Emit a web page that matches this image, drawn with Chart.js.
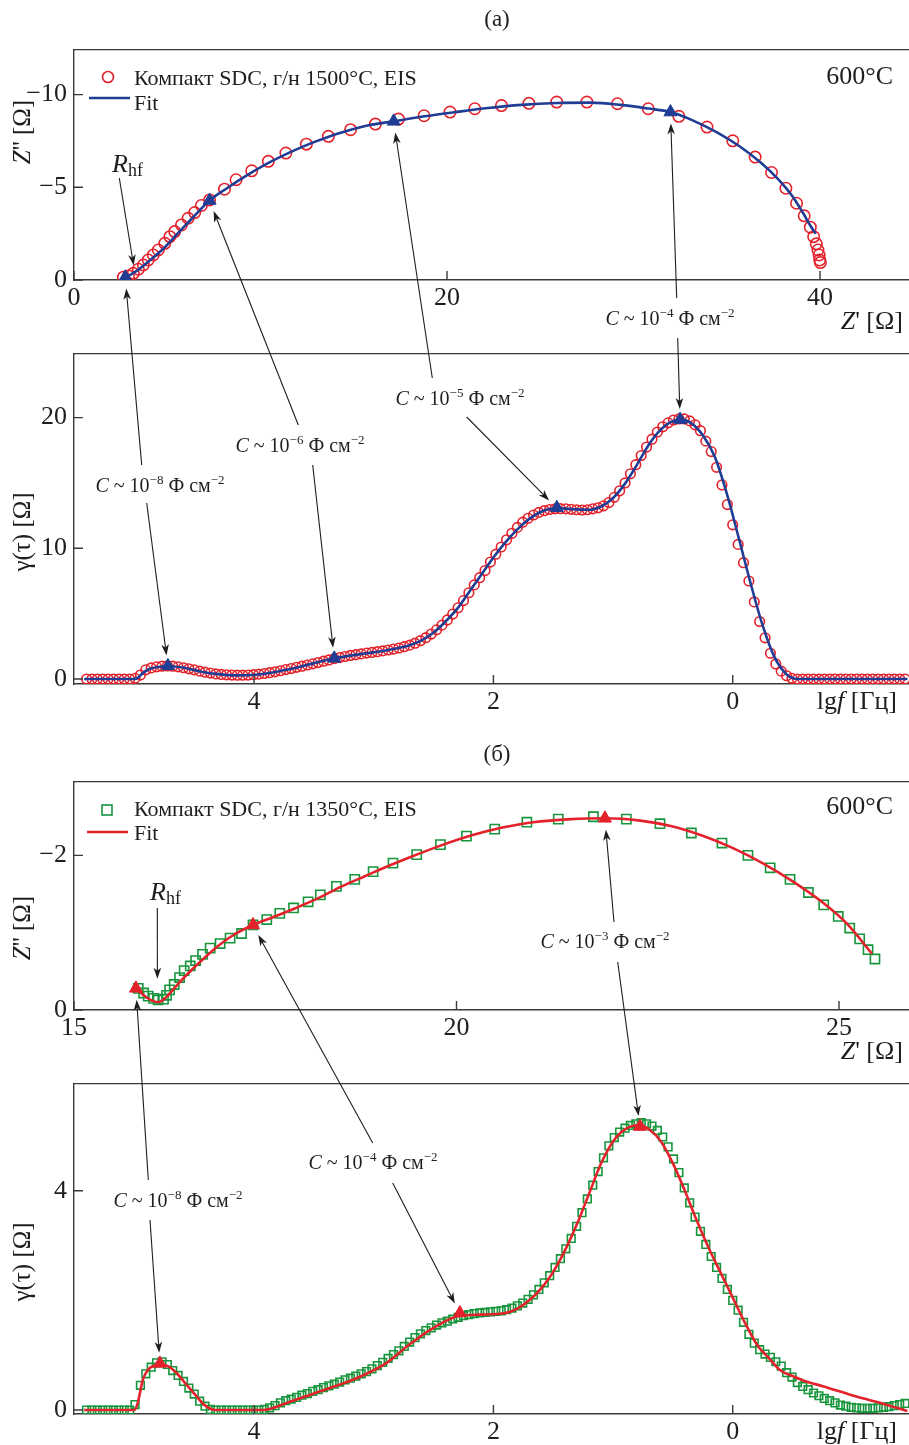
<!DOCTYPE html>
<html><head><meta charset="utf-8">
<script src="https://cdn.jsdelivr.net/npm/chart.js@4.4.1/dist/chart.umd.min.js"></script>
<style>
html,body{margin:0;padding:0;background:#fff;}
#root{position:relative;width:909px;height:1445px;overflow:hidden;background:#fff;}
#root canvas{position:absolute;left:0;top:0;}
</style></head><body><div id="root"></div>
<script>
// ---------------- DATA ----------------
// Panel (а) – Nyquist, data (Z', Z'')
const nyqA_zr = [2.65,2.92,3.18,3.45,3.72,3.98,4.25,4.52,4.87,5.14,5.40,5.76,6.12,6.47,6.83,7.27,8.07,8.69,9.53,10.42,11.36,12.46,13.64,14.83,16.16,17.40,18.77,20.16,21.49,22.92,24.39,25.88,27.50,29.14,30.79,32.43,33.94,35.32,36.52,37.40,38.17,38.74,39.15,39.48,39.66,39.80,39.89,39.95,39.98,40.02];
const nyqA_zi = [-0.15,-0.22,-0.36,-0.58,-0.81,-1.08,-1.35,-1.62,-1.98,-2.34,-2.61,-2.97,-3.33,-3.64,-4.02,-4.32,-4.90,-5.41,-5.89,-6.40,-6.85,-7.33,-7.75,-8.11,-8.41,-8.68,-8.86,-9.06,-9.24,-9.41,-9.53,-9.60,-9.60,-9.51,-9.24,-8.83,-8.25,-7.51,-6.63,-5.80,-4.95,-4.14,-3.46,-2.85,-2.34,-1.95,-1.62,-1.35,-1.08,-0.94];
// Panel (а) – Nyquist, fit
const fitA_zr = [2.75,3.3,4.0,4.8,5.6,6.4,7.27,8.2,9.2,10.4,11.6,12.9,14.3,15.8,17.14,18.8,20.4,22.2,24.0,25.9,27.7,29.3,30.8,31.98,33.2,34.5,35.7,36.8,37.7,38.5,39.1,39.5,39.77];
const fitA_zi = [-0.12,-0.45,-1.0,-1.7,-2.55,-3.4,-4.29,-4.95,-5.6,-6.3,-6.9,-7.45,-7.95,-8.35,-8.56,-8.83,-9.05,-9.28,-9.45,-9.55,-9.57,-9.45,-9.25,-9.06,-8.6,-7.95,-7.2,-6.35,-5.5,-4.55,-3.6,-2.9,-2.5];
// Panel (а) – Nyquist, marked points
const triA_zr = [2.75,7.27,17.14,31.98];
const triA_zi = [-0.15,-4.29,-8.56,-9.06];

// DRT grid (lg f) shared by both DRT panels
const drtLg = [5.400,5.355,5.310,5.265,5.220,5.175,5.130,5.085,5.040,4.995,
4.950,4.905,4.860,4.815,4.770,4.725,4.680,4.635,4.590,4.545,
4.500,4.455,4.410,4.365,4.320,4.275,4.230,4.185,4.140,4.095,
4.050,4.005,3.960,3.915,3.870,3.825,3.780,3.735,3.690,3.645,
3.600,3.555,3.510,3.465,3.420,3.375,3.330,3.285,3.240,3.195,
3.150,3.105,3.060,3.015,2.970,2.925,2.880,2.835,2.790,2.745,
2.700,2.655,2.610,2.565,2.520,2.475,2.430,2.385,2.340,2.295,
2.250,2.205,2.160,2.115,2.070,2.025,1.980,1.935,1.890,1.845,
1.800,1.755,1.710,1.665,1.620,1.575,1.530,1.485,1.440,1.395,
1.350,1.305,1.260,1.215,1.170,1.125,1.080,1.035,0.990,0.945,
0.900,0.855,0.810,0.765,0.720,0.675,0.630,0.585,0.540,0.495,
0.450,0.405,0.360,0.315,0.270,0.225,0.180,0.135,0.090,0.045,
0.000,-0.045,-0.090,-0.135,-0.180,-0.225,-0.270,-0.315,-0.360,-0.405,
-0.450,-0.495,-0.540,-0.585,-0.630,-0.675,-0.720,-0.765,-0.810,-0.855,
-0.900,-0.945,-0.990,-1.035,-1.080,-1.125,-1.170,-1.215,-1.260,-1.305,
-1.350,-1.395,-1.440];
// Panel (а) – DRT data γ(τ)
const drtA_gamma = [0,0,0,0,0,0,0,0,0,0.05,
0.3,0.7,0.85,0.93,0.98,1.0,0.98,0.93,0.86,0.78,
0.7,0.6,0.52,0.45,0.39,0.35,0.32,0.3,0.29,0.29,
0.3,0.33,0.37,0.42,0.48,0.55,0.63,0.72,0.8,0.89,
0.98,1.07,1.16,1.26,1.36,1.46,1.56,1.64,1.72,1.8,
1.86,1.92,1.98,2.03,2.09,2.15,2.22,2.29,2.37,2.47,
2.59,2.74,2.93,3.16,3.44,3.76,4.12,4.52,4.97,5.45,
6.0,6.6,7.2,7.75,8.3,8.95,9.55,10.1,10.65,11.15,
11.6,12.0,12.3,12.55,12.75,12.88,12.97,13.02,13.03,13.02,
12.98,12.95,12.93,12.95,13.02,13.1,13.25,13.5,13.9,14.4,
15.0,15.7,16.4,17.1,17.75,18.35,18.9,19.3,19.6,19.82,
19.9,19.9,19.75,19.45,19.0,18.2,17.4,16.2,14.85,13.35,
11.8,10.3,8.9,7.5,5.9,4.4,3.15,1.97,1.15,0.6,
0.25,0.05,0,0,0,0,0,0,0,0,
0,0,0,0,0,0,0,0,0,0,
0,0,0];
// Panel (а) – DRT fit
const drtFitA_lg = [5.42,5.0,4.97,4.93,4.88,4.8,4.72,4.6,4.45,4.3,4.15,4.0,3.8,3.6,3.33,3.1,2.9,2.7,2.6,2.5,2.4,2.3,2.2,2.1,2.0,1.9,1.8,1.7,1.6,1.47,1.35,1.2,1.1,1.0,0.9,0.8,0.7,0.6,0.52,0.44,0.35,0.25,0.15,0.05,-0.05,-0.15,-0.25,-0.35,-0.45,-0.52,-0.6,-1.46];
const drtFitA_gamma = [0,0,0.1,0.45,0.75,0.92,1.0,0.88,0.58,0.37,0.28,0.32,0.58,0.97,1.58,1.92,2.18,2.58,2.95,3.55,4.4,5.4,6.7,8.0,9.3,10.45,11.45,12.25,12.8,13.08,13.0,12.95,13.2,13.85,14.95,16.4,17.95,19.1,19.65,19.85,19.6,18.65,17.0,14.2,10.8,7.3,4.1,1.65,0.35,0.02,0,0];
const drtTriA_lg = [4.72,3.33,1.47,0.44];
const drtTriA_gamma = [1.0,1.58,13.1,19.85];

// Panel (б) – Nyquist, data
const nyqB_zr = [15.84,15.91,15.97,16.04,16.10,16.17,16.21,16.25,16.31,16.38,16.44,16.52,16.59,16.68,16.78,16.91,17.04,17.19,17.34,17.52,17.69,17.87,18.06,18.22,18.43,18.67,18.91,19.17,19.48,19.79,20.13,20.50,20.92,21.33,21.79,22.22,22.66,23.07,23.47,23.81,24.10,24.36,24.60,24.80,24.99,25.14,25.27,25.38,25.47];
const nyqB_zi = [-0.28,-0.22,-0.18,-0.15,-0.13,-0.14,-0.19,-0.26,-0.33,-0.42,-0.51,-0.57,-0.64,-0.72,-0.80,-0.86,-0.93,-0.99,-1.10,-1.17,-1.25,-1.32,-1.40,-1.49,-1.60,-1.69,-1.79,-1.90,-2.01,-2.14,-2.25,-2.34,-2.43,-2.47,-2.50,-2.47,-2.41,-2.29,-2.16,-2.00,-1.84,-1.69,-1.52,-1.36,-1.21,-1.06,-0.92,-0.78,-0.66];
const fitB_zr = [15.81,15.9,16.0,16.1,16.2,16.3,16.4,16.55,16.7,16.9,17.1,17.34,17.6,17.9,18.2,18.5,18.8,19.1,19.4,19.8,20.2,20.6,21.0,21.5,21.94,22.4,22.8,23.2,23.6,24.0,24.4,24.8,25.1,25.43];
const fitB_zi = [-0.28,-0.2,-0.13,-0.1,-0.16,-0.27,-0.38,-0.53,-0.67,-0.84,-0.98,-1.10,-1.2,-1.32,-1.45,-1.6,-1.73,-1.86,-1.98,-2.13,-2.26,-2.36,-2.43,-2.47,-2.48,-2.45,-2.38,-2.26,-2.1,-1.9,-1.66,-1.38,-1.12,-0.73];
const triB_zr = [15.81,17.34,21.94];
const triB_zi = [-0.28,-1.10,-2.48];

// Panel (б) – DRT data
const drtB_gamma = [0,0,0,0,0,0,0,0,0,0.1,
0.45,0.66,0.78,0.86,0.88,0.83,0.72,0.63,0.52,0.4,
0.29,0.16,0.07,0.01,0,0,0,0,0,0,
0,0,0,0.01,0.04,0.08,0.13,0.17,0.2,0.23,
0.27,0.3,0.34,0.37,0.41,0.44,0.47,0.51,0.55,0.58,
0.62,0.66,0.7,0.75,0.81,0.87,0.94,1.01,1.08,1.16,
1.24,1.32,1.39,1.45,1.5,1.55,1.59,1.62,1.66,1.69,
1.72,1.74,1.76,1.77,1.78,1.79,1.8,1.81,1.83,1.86,
1.9,1.95,2.02,2.1,2.2,2.32,2.45,2.6,2.76,2.94,
3.13,3.35,3.6,3.85,4.1,4.35,4.6,4.82,4.97,5.07,
5.14,5.19,5.22,5.24,5.22,5.18,5.1,4.98,4.8,4.58,
4.33,4.05,3.78,3.52,3.26,3.02,2.8,2.6,2.4,2.2,
2.0,1.82,1.6,1.38,1.22,1.1,1.02,0.96,0.88,0.8,
0.68,0.6,0.5,0.43,0.37,0.31,0.26,0.21,0.17,0.13,
0.09,0.07,0.05,0.04,0.03,0.03,0.03,0.04,0.05,0.06,
0.08,0.1,0.12];
const drtFitB_lg = [5.42,5.0,4.97,4.93,4.88,4.82,4.78,4.72,4.65,4.58,4.5,4.42,4.35,4.3,3.92,3.85,3.7,3.5,3.3,3.1,2.9,2.7,2.5,2.28,2.1,1.9,1.8,1.7,1.6,1.5,1.4,1.3,1.2,1.1,1.0,0.9,0.78,0.7,0.6,0.5,0.4,0.3,0.2,0.1,0.0,-0.1,-0.2,-0.3,-0.4,-0.5,-0.6,-0.76,-1.04,-1.25,-1.46];
const drtFitB_gamma = [0,0,0.15,0.55,0.75,0.82,0.83,0.8,0.68,0.5,0.3,0.1,0.01,0,0,0.03,0.15,0.3,0.45,0.62,0.85,1.2,1.5,1.72,1.74,1.77,1.85,2.0,2.22,2.52,2.92,3.4,3.95,4.5,4.9,5.12,5.2,5.12,4.9,4.5,4.0,3.45,2.95,2.5,2.05,1.6,1.2,0.95,0.72,0.62,0.53,0.43,0.24,0.12,-0.02];
const drtTriB_lg = [4.787,2.28,0.775];
const drtTriB_gamma = [0.85,1.77,5.17];

// Tick steps
const ticksNyqA = {x:20, y:5};
const ticksDrtA = {x:2, y:10};
const ticksNyqB = {x:5, y:2};
const ticksDrtB = {x:2, y:4};

// ---------------- STYLE ----------------
const FF = '"Liberation Serif", "Times New Roman", serif';
const AX = '#3a3a3a', TXT = '#1e1e1e';
const RED = '#e4222b', BLUE = '#1f3d94', GREEN = '#16953c';
const NONE = 'rgba(0,0,0,0)';
Chart.defaults.font.family = FF;

const fmt = v => String(v).replace('-', '\u2212');
function pts(xs, ys){ return xs.map((x,i)=>({x:x, y:ys[i]})); }

const framePlugin = {
  id:'frame',
  afterDraw(chart){
    const ctx = chart.ctx, a = chart.chartArea, x = chart.scales.x, y = chart.scales.y;
    ctx.save();
    ctx.strokeStyle = AX; ctx.lineWidth = 1.4;
    ctx.beginPath();
    ctx.moveTo(a.left, a.top); ctx.lineTo(a.right, a.top);
    x.ticks.forEach(t => { const p = x.getPixelForValue(t.value); ctx.moveTo(p, a.bottom); ctx.lineTo(p, a.bottom - 9); });
    y.ticks.forEach(t => { const p = y.getPixelForValue(t.value); ctx.moveTo(a.left, p); ctx.lineTo(a.left + 9, p); });
    ctx.stroke();
    ctx.restore();
  }
};

function axisOpt(s, ax){
  return {
    type:'linear', position: ax==='x' ? 'bottom' : 'left',
    min:s.min, max:s.max, reverse:!!s.reverse,
    grid:{display:false, drawTicks:false, drawOnChartArea:false},
    border:{display:true, color:AX, width:1.4},
    ticks:{stepSize:s.step, includeBounds:false, autoSkip:false, maxRotation:0, minRotation:0,
           padding: ax==='x' ? 3 : 7, color:TXT, font:{family:FF, size:26}, callback: fmt},
    afterFit: sc => { if (ax==='x') sc.height = 50; else sc.width = 74; }
  };
}
function makeCfg(sx, sy, dsFn){
  return () => ({
    type:'scatter',
    data:{datasets: dsFn()},
    options:{
      responsive:false, maintainAspectRatio:false, animation:false, devicePixelRatio:1, events:[],
      layout:{padding:0, autoPadding:false},
      plugins:{legend:{display:false}, tooltip:{enabled:false}},
      scales:{ x: axisOpt(sx,'x'), y: axisOpt(sy,'y') }
    },
    plugins:[framePlugin]
  });
}
const root = document.getElementById('root');
function newCanvas(w,h){
  const c = document.createElement('canvas');
  c.width = w; c.height = h; c.style.width = w+'px'; c.style.height = h+'px';
  root.appendChild(c); return c;
}
function place(target, mk){
  let w = 1000, h = (target.bottom - target.top) + 120;
  let cv = newCanvas(w,h), ch = new Chart(cv, mk());
  let a = ch.chartArea;
  const nw = Math.round(w + (target.right - target.left) - (a.right - a.left));
  const nh = Math.round(h + (target.bottom - target.top) - (a.bottom - a.top));
  ch.destroy(); cv.remove();
  cv = newCanvas(nw, nh); ch = new Chart(cv, mk());
  a = ch.chartArea;
  const ox = target.left - a.left, oy = target.top - a.top;
  cv.style.left = ox + 'px'; cv.style.top = oy + 'px';
  return {chart:ch, ox:ox, oy:oy};
}

function scatterDs(data, style, color, r, order, fill){
  return {data:data, showLine:false, pointStyle:style, pointRadius:r, pointHoverRadius:r,
          pointBorderColor:color, borderColor:color, pointBackgroundColor: fill ? color : NONE,
          backgroundColor: fill ? color : NONE, pointBorderWidth: fill ? 1 : 1.6, borderWidth: fill ? 1 : 1.6, order:order};
}
function lineDs(data, color){
  return {data:data, showLine:true, borderColor:color, backgroundColor:color, borderWidth:2.6,
          pointRadius:0, pointHoverRadius:0, cubicInterpolationMode:'monotone', order:2};
}

const A1 = place({left:74, top:50, right:909, bottom:280},
  makeCfg({min:0, max:44.77, step:ticksNyqA.x}, {min:-12.43, max:0, step:ticksNyqA.y, reverse:true}, () => [
    scatterDs(pts(nyqA_zr, nyqA_zi), 'circle', RED, 5.7, 3, false),
    lineDs(pts(fitA_zr, fitA_zi), BLUE),
    scatterDs(pts(triA_zr, triA_zi), 'triangle', BLUE, 7.5, 1, true)
  ]));
const A2 = place({left:74, top:354, right:909, bottom:684},
  makeCfg({min:-1.473, max:5.505, step:ticksDrtA.x, reverse:true}, {min:-0.383, max:24.9, step:ticksDrtA.y}, () => [
    scatterDs(pts(drtLg, drtA_gamma), 'circle', RED, 4.8, 3, false),
    lineDs(pts(drtFitA_lg, drtFitA_gamma), BLUE),
    scatterDs(pts(drtTriA_lg, drtTriA_gamma), 'triangle', BLUE, 7.5, 1, true)
  ]));
const B1 = place({left:74, top:782, right:909, bottom:1010},
  makeCfg({min:15, max:25.915, step:ticksNyqB.x}, {min:-2.955, max:0, step:ticksNyqB.y, reverse:true}, () => [
    scatterDs(pts(nyqB_zr, nyqB_zi), 'rect', GREEN, 6.5, 3, false),
    lineDs(pts(fitB_zr, fitB_zi), RED),
    scatterDs(pts(triB_zr, triB_zi), 'triangle', RED, 7.5, 1, true)
  ]));
const B2 = place({left:74, top:1084, right:909, bottom:1414},
  makeCfg({min:-1.473, max:5.505, step:ticksDrtB.x, reverse:true}, {min:-0.073, max:5.954, step:ticksDrtB.y}, () => [
    scatterDs(pts(drtLg, drtB_gamma), 'rect', GREEN, 5.4, 3, false),
    lineDs(pts(drtFitB_lg, drtFitB_gamma), RED),
    scatterDs(pts(drtTriB_lg, drtTriB_gamma), 'triangle', RED, 7.5, 1, true)
  ]));

// ---------------- OVERLAY (texts, legends, arrows) ----------------
const ov = newCanvas(909, 1445); ov.style.zIndex = 10;
const ctx = ov.getContext('2d');
ctx.fillStyle = TXT; ctx.strokeStyle = TXT;

function P(C, x, y){ return [C.ox + C.chart.scales.x.getPixelForValue(x), C.oy + C.chart.scales.y.getPixelForValue(y)]; }
function fnt(size, it){ return (it ? 'italic ' : '') + size + 'px ' + FF; }
function rich(parts, x, y, align){
  let w = 0;
  parts.forEach(p => { ctx.font = fnt(p[1], p[2]); w += ctx.measureText(p[0]).width; });
  let cx = align === 'center' ? x - w/2 : align === 'right' ? x - w : x;
  parts.forEach(p => { ctx.font = fnt(p[1], p[2]); ctx.fillText(p[0], cx, y + (p[3] || 0)); cx += ctx.measureText(p[0]).width; });
}
function rotTitle(parts, cx, cy){
  ctx.save(); ctx.translate(cx, cy); ctx.rotate(-Math.PI/2); rich(parts, 0, 0, 'center'); ctx.restore();
}
function arrow(x1,y1,x2,y2){
  const dx = x2-x1, dy = y2-y1, L = Math.hypot(dx,dy), ux = dx/L, uy = dy/L, hl = 11, hw = 3.8;
  ctx.lineWidth = 1.1;
  ctx.beginPath(); ctx.moveTo(x1,y1); ctx.lineTo(x2-ux*hl*0.7, y2-uy*hl*0.7); ctx.stroke();
  ctx.beginPath(); ctx.moveTo(x2,y2);
  ctx.lineTo(x2-ux*hl-uy*hw, y2-uy*hl+ux*hw);
  ctx.lineTo(x2-ux*hl*0.72, y2-uy*hl*0.72);
  ctx.lineTo(x2-ux*hl+uy*hw, y2-uy*hl-ux*hw);
  ctx.closePath(); ctx.fill();
}
function arrowToPoint(tx, ty, C, px, py, gap){
  const p = P(C, px, py), dx = p[0]-tx, dy = p[1]-ty, L = Math.hypot(dx,dy);
  arrow(tx, ty, p[0] - dx/L*gap, p[1] - dy/L*gap);
}
function capLabel(exp, cx, cy){
  rich([['C',20,true],[' ~ 10',20,false],['\u2212'+exp,13,false,-8],[' \u0424 \u0441\u043c',20,false],['\u22122',13,false,-8]], cx, cy + 7, 'center');
}

ctx.textBaseline = 'alphabetic';
// panel letters
rich([['(\u0430)',23,false]], 497, 26, 'center');
rich([['(\u0431)',23,false]], 497, 761, 'center');

// axis titles
const zpp = [['Z',25,true],["'' [\u03a9]",25,false]];
const zp = [['Z',26,true],["' [\u03a9]",26,false]];
const gam = [['\u03b3(\u03c4) [\u03a9]',25,false]];
const lgf = [['lg',26,false],['f',26,true],[' [\u0413\u0446]',26,false]];
rotTitle(zpp, 30, 132); rotTitle(gam, 30, 532);
rotTitle(zpp, 30, 928); rotTitle(gam, 30, 1262);
rich(zp, 903, 329, 'right'); rich(lgf, 897, 709, 'right');
rich(zp, 903, 1059, 'right'); rich(lgf, 897, 1439, 'right');

// temperature
rich([['600\u00b0C',26,false]], 893, 84, 'right');
rich([['600\u00b0C',26,false]], 893, 814, 'right');

// legends
ctx.lineWidth = 1.6; ctx.strokeStyle = RED;
ctx.beginPath(); ctx.arc(108, 77, 5.5, 0, Math.PI*2); ctx.stroke();
ctx.strokeStyle = BLUE; ctx.lineWidth = 2.6;
ctx.beginPath(); ctx.moveTo(89, 98); ctx.lineTo(130, 98); ctx.stroke();
ctx.fillStyle = TXT;
rich([['\u041a\u043e\u043c\u043f\u0430\u043a\u0442 SDC, \u0433/\u043d 1500\u00b0C, EIS',22,false]], 134, 85, 'left');
rich([['Fit',22,false]], 134, 110, 'left');
ctx.lineWidth = 1.6; ctx.strokeStyle = GREEN;
ctx.strokeRect(102, 805, 10, 10);
ctx.strokeStyle = RED; ctx.lineWidth = 2.6;
ctx.beginPath(); ctx.moveTo(87, 832); ctx.lineTo(128, 832); ctx.stroke();
rich([['\u041a\u043e\u043c\u043f\u0430\u043a\u0442 SDC, \u0433/\u043d 1350\u00b0C, EIS',22,false]], 134, 816, 'left');
rich([['Fit',22,false]], 134, 840, 'left');

// R_hf labels and arrows
ctx.fillStyle = TXT; ctx.strokeStyle = TXT;
rich([['R',26,true],['hf',18,false,4]], 112, 172, 'left');
rich([['R',26,true],['hf',18,false,4]], 150, 900, 'left');
const rhfA = [3.2, -0.8], rhfB = [16.09, -0.41];
arrowToPoint(119.3, 178, A1, rhfA[0], rhfA[1], 0);
arrowToPoint(157.3, 908, B1, rhfB[0], rhfB[1], 0);

// capacitance annotations: label centre, tail up -> top panel marker, tail down -> DRT marker
const notes = [
  {exp:'8', cx:160, cy:485, up:[141.7,465], top:[A1,triA_zr,triA_zi,0], dn:[146.7,503], bot:[A2,drtTriA_lg,drtTriA_gamma,0]},
  {exp:'6', cx:300, cy:445, up:[298.3,425], top:[A1,triA_zr,triA_zi,1], dn:[312.7,465], bot:[A2,drtTriA_lg,drtTriA_gamma,1]},
  {exp:'5', cx:460, cy:398, up:[432.3,378], top:[A1,triA_zr,triA_zi,2], dn:[466.7,417], bot:[A2,drtTriA_lg,drtTriA_gamma,2]},
  {exp:'4', cx:670, cy:318, up:[676.7,298], top:[A1,triA_zr,triA_zi,3], dn:[677.7,338], bot:[A2,drtTriA_lg,drtTriA_gamma,3]},
  {exp:'8', cx:178, cy:1200, up:[148.3,1180], top:[B1,triB_zr,triB_zi,0], dn:[150,1220], bot:[B2,drtTriB_lg,drtTriB_gamma,0]},
  {exp:'4', cx:373, cy:1162, up:[372.7,1143], top:[B1,triB_zr,triB_zi,1], dn:[392.7,1183], bot:[B2,drtTriB_lg,drtTriB_gamma,1]},
  {exp:'3', cx:605, cy:941, up:[614,922], top:[B1,triB_zr,triB_zi,2], dn:[617.7,962], bot:[B2,drtTriB_lg,drtTriB_gamma,2]}
];
notes.forEach(n => {
  capLabel(n.exp, n.cx, n.cy);
  const t = n.top, b = n.bot;
  arrowToPoint(n.up[0], n.up[1], t[0], t[1][t[3]], t[2][t[3]], 11);
  arrowToPoint(n.dn[0], n.dn[1], b[0], b[1][b[3]], b[2][b[3]], 11);
});
</script></body></html>
